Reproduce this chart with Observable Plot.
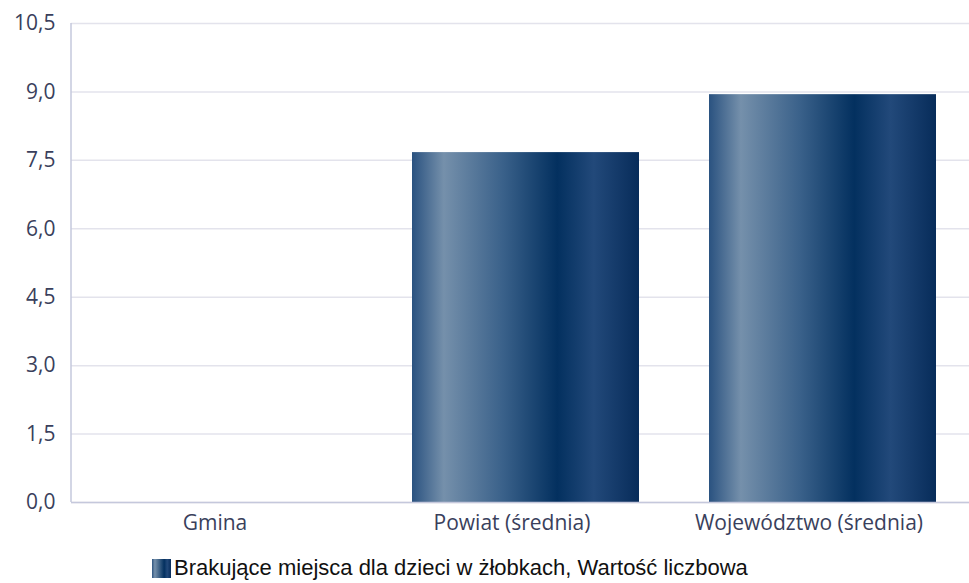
<!DOCTYPE html>
<html><head><meta charset="utf-8">
<script src="https://cdn.jsdelivr.net/npm/d3@7"></script>
<script src="https://cdn.jsdelivr.net/npm/@observablehq/plot@0.6"></script>
<style>
body{margin:0;background:#fff;font-family:"Open Sans",sans-serif;}
#legend{display:flex;align-items:center;padding-left:152px;margin-top:20px;font-family:"Liberation Sans",Arial,sans-serif;font-size:22px;color:#111;}
#legend .sw{width:19px;height:19px;margin-right:3px;background:linear-gradient(90deg,#2e5580 0%,#7590ab 15%,#03305f 64%,#22497a 80%,#082d5c 100%);}
</style></head>
<body>
<div id="chart"></div>
<div id="legend"><span class="sw"></span><span>Brakujące miejsca dla dzieci w żłobkach, Wartość liczbowa</span></div>
<script>
const categories = ["Gmina", "Powiat (średnia)", "Województwo (średnia)"];
const values = [0, 7.67, 8.94];
const yTicks = [0, 1.5, 3, 4.5, 6, 7.5, 9, 10.5];
const seriesName = "Brakujące miejsca dla dzieci w żłobkach, Wartość liczbowa";

const data = categories.map((c, i) => ({category: c, value: values[i]}));
const fmt = d => d.toFixed(1).replace(".", ",");

const chart = Plot.plot({
  width: 969,
  height: 535,
  marginLeft: 71,
  marginRight: 0,
  marginTop: 23,
  marginBottom: 33,
  style: {fontFamily: "'Open Sans', sans-serif", fontSize: "21px", color: "#3a3f5c", background: "#fff"},
  x: {domain: categories, range: [65.5, 957.5], padding: 0, label: null},
  y: {domain: [0, 10.5], label: null},
  marks: [
    Plot.gridY(yTicks, {stroke: "#e3e3ec", strokeOpacity: 1, strokeWidth: 1.5}),
    Plot.barY(data, {x: "category", y: "value", fill: "url(#barGrad)", insetLeft: 49, insetRight: 21}),
    Plot.ruleY([0], {stroke: "#c5c8dc", strokeWidth: 1.5}),
    Plot.axisY(yTicks, {tickSize: 0, tickPadding: 16, tickFormat: fmt, fill: "#3a3f5c", fontSize: 21}),
    Plot.axisX({tickSize: 0, tickPadding: 13, fill: "#3a3f5c", fontSize: 21})
  ]
});

const svg = d3.select(chart);
const defs = svg.insert("defs", ":first-child");
const g = defs.append("linearGradient").attr("id", "barGrad").attr("x1", 0).attr("x2", 1).attr("y1", 0).attr("y2", 0);
[[0, "#2a5280"], [0.14, "#7590ab"], [0.4, "#3a618a"], [0.64, "#03305f"], [0.8, "#22497a"], [1, "#072c5a"]]
  .forEach(([o, c]) => g.append("stop").attr("offset", o).attr("stop-color", c));
svg.append("line").attr("x1", 71).attr("x2", 71).attr("y1", 23).attr("y2", 502)
  .attr("stroke", "#c5c8dc").attr("stroke-width", 1.5);

document.getElementById("chart").appendChild(chart);
</script>
</body></html>
